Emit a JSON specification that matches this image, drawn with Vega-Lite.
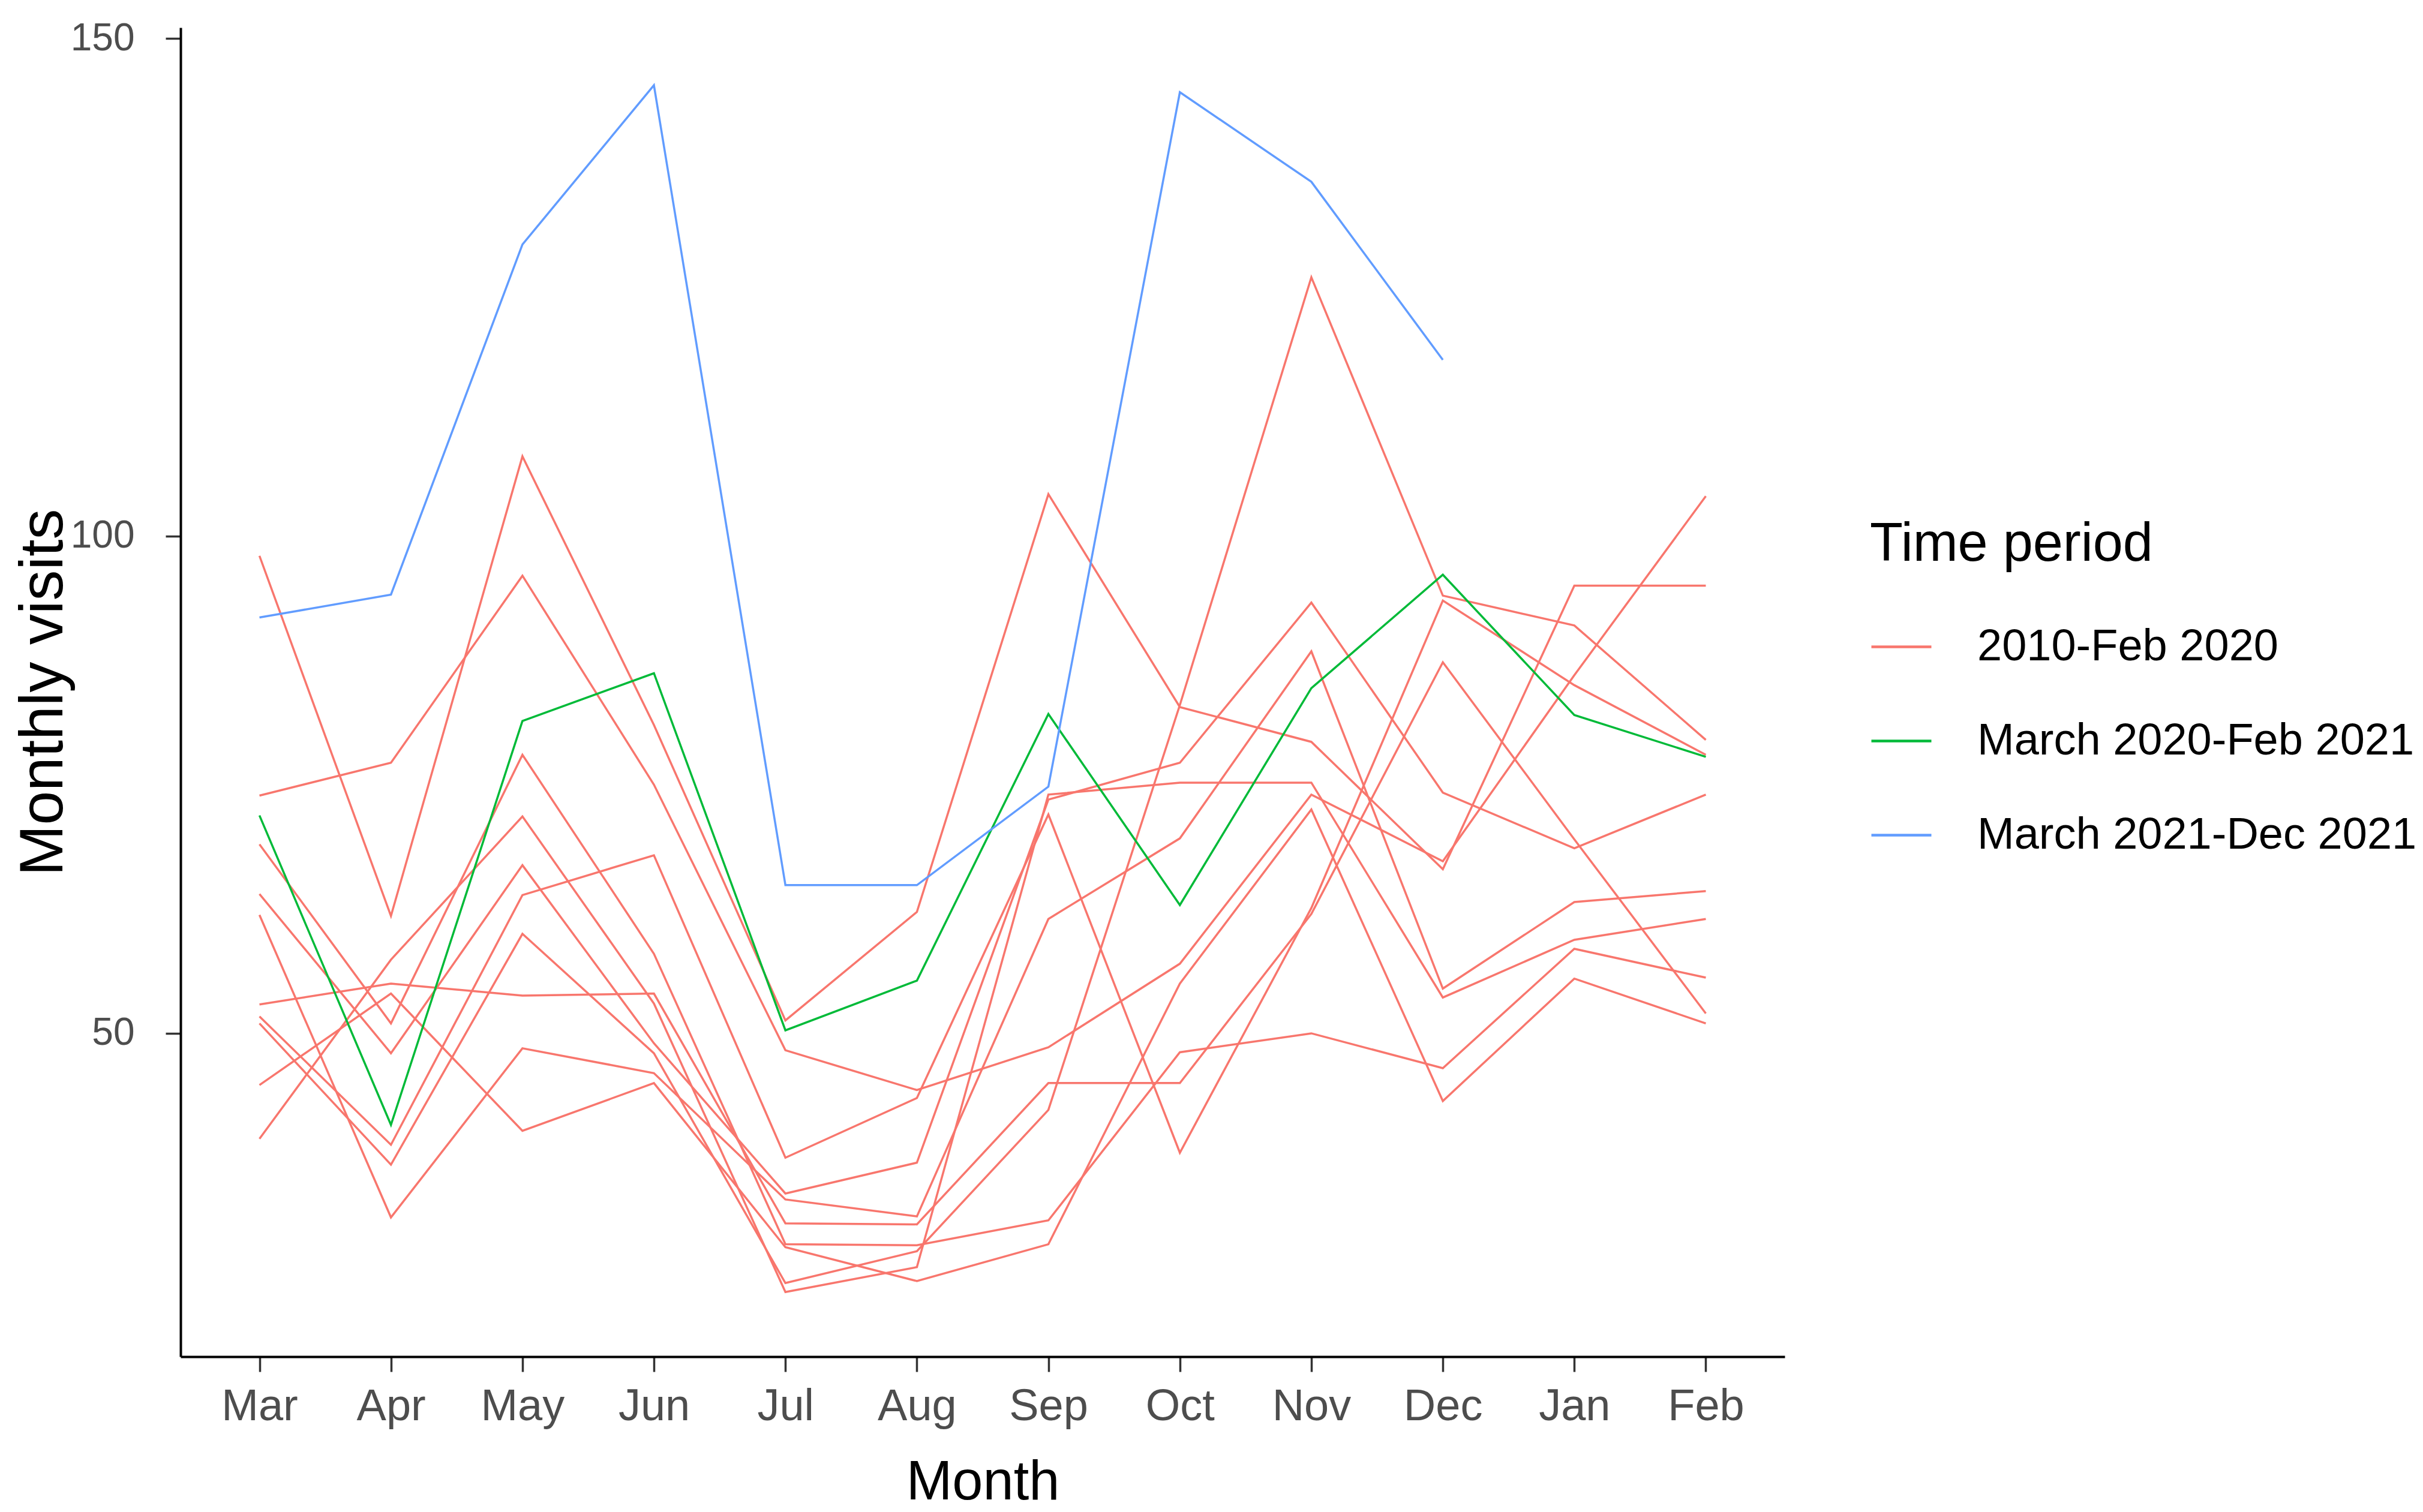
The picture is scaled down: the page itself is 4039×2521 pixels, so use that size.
{
  "$schema": "https://vega.github.io/schema/vega-lite/v6.json",
  "width": 2674,
  "height": 2216,
  "autosize": {"type": "none"},
  "padding": {"left": 301, "top": 46, "right": 1064, "bottom": 259},
  "background": "white",
  "data": {"values": [
    {"m":"Mar","s":"A","p":"2010-Feb 2020","v":98},{"m":"Apr","s":"A","p":"2010-Feb 2020","v":61.8},{"m":"May","s":"A","p":"2010-Feb 2020","v":108},{"m":"Jun","s":"A","p":"2010-Feb 2020","v":81},{"m":"Jul","s":"A","p":"2010-Feb 2020","v":51.3},{"m":"Aug","s":"A","p":"2010-Feb 2020","v":62.2},{"m":"Sep","s":"A","p":"2010-Feb 2020","v":104.2},{"m":"Oct","s":"A","p":"2010-Feb 2020","v":82.8},{"m":"Nov","s":"A","p":"2010-Feb 2020","v":79.3},{"m":"Dec","s":"A","p":"2010-Feb 2020","v":66.5},{"m":"Jan","s":"A","p":"2010-Feb 2020","v":95},{"m":"Feb","s":"A","p":"2010-Feb 2020","v":95},
    {"m":"Mar","s":"B","p":"2010-Feb 2020","v":73.9},{"m":"Apr","s":"B","p":"2010-Feb 2020","v":77.2},{"m":"May","s":"B","p":"2010-Feb 2020","v":96},{"m":"Jun","s":"B","p":"2010-Feb 2020","v":75},{"m":"Jul","s":"B","p":"2010-Feb 2020","v":48.3},{"m":"Aug","s":"B","p":"2010-Feb 2020","v":44.3},{"m":"Sep","s":"B","p":"2010-Feb 2020","v":48.6},{"m":"Oct","s":"B","p":"2010-Feb 2020","v":57},{"m":"Nov","s":"B","p":"2010-Feb 2020","v":74},{"m":"Dec","s":"B","p":"2010-Feb 2020","v":67.3},{"m":"Jan","s":"B","p":"2010-Feb 2020","v":86},{"m":"Feb","s":"B","p":"2010-Feb 2020","v":104},
    {"m":"Mar","s":"C","p":"2010-Feb 2020","v":69},{"m":"Apr","s":"C","p":"2010-Feb 2020","v":51},{"m":"May","s":"C","p":"2010-Feb 2020","v":78},{"m":"Jun","s":"C","p":"2010-Feb 2020","v":58},{"m":"Jul","s":"C","p":"2010-Feb 2020","v":28.8},{"m":"Aug","s":"C","p":"2010-Feb 2020","v":28.7},{"m":"Sep","s":"C","p":"2010-Feb 2020","v":31.2},{"m":"Oct","s":"C","p":"2010-Feb 2020","v":48.1},{"m":"Nov","s":"C","p":"2010-Feb 2020","v":50},{"m":"Dec","s":"C","p":"2010-Feb 2020","v":46.5},{"m":"Jan","s":"C","p":"2010-Feb 2020","v":58.5},{"m":"Feb","s":"C","p":"2010-Feb 2020","v":55.6},
    {"m":"Mar","s":"D","p":"2010-Feb 2020","v":64},{"m":"Apr","s":"D","p":"2010-Feb 2020","v":48},{"m":"May","s":"D","p":"2010-Feb 2020","v":66.9},{"m":"Jun","s":"D","p":"2010-Feb 2020","v":49},{"m":"Jul","s":"D","p":"2010-Feb 2020","v":33.9},{"m":"Aug","s":"D","p":"2010-Feb 2020","v":37},{"m":"Sep","s":"D","p":"2010-Feb 2020","v":73.5},{"m":"Oct","s":"D","p":"2010-Feb 2020","v":77.2},{"m":"Nov","s":"D","p":"2010-Feb 2020","v":93.3},{"m":"Dec","s":"D","p":"2010-Feb 2020","v":74.2},{"m":"Jan","s":"D","p":"2010-Feb 2020","v":68.6},{"m":"Feb","s":"D","p":"2010-Feb 2020","v":74},
    {"m":"Mar","s":"E","p":"2010-Feb 2020","v":61.9},{"m":"Apr","s":"E","p":"2010-Feb 2020","v":31.5},{"m":"May","s":"E","p":"2010-Feb 2020","v":48.5},{"m":"Jun","s":"E","p":"2010-Feb 2020","v":46},{"m":"Jul","s":"E","p":"2010-Feb 2020","v":33.3},{"m":"Aug","s":"E","p":"2010-Feb 2020","v":31.6},{"m":"Sep","s":"E","p":"2010-Feb 2020","v":61.5},{"m":"Oct","s":"E","p":"2010-Feb 2020","v":69.6},{"m":"Nov","s":"E","p":"2010-Feb 2020","v":88.4},{"m":"Dec","s":"E","p":"2010-Feb 2020","v":54.5},{"m":"Jan","s":"E","p":"2010-Feb 2020","v":63.2},{"m":"Feb","s":"E","p":"2010-Feb 2020","v":64.3},
    {"m":"Mar","s":"F","p":"2010-Feb 2020","v":52.9},{"m":"Apr","s":"F","p":"2010-Feb 2020","v":55},{"m":"May","s":"F","p":"2010-Feb 2020","v":53.8},{"m":"Jun","s":"F","p":"2010-Feb 2020","v":54},{"m":"Jul","s":"F","p":"2010-Feb 2020","v":30.9},{"m":"Aug","s":"F","p":"2010-Feb 2020","v":30.8},{"m":"Sep","s":"F","p":"2010-Feb 2020","v":45},{"m":"Oct","s":"F","p":"2010-Feb 2020","v":45},{"m":"Nov","s":"F","p":"2010-Feb 2020","v":62},{"m":"Dec","s":"F","p":"2010-Feb 2020","v":87.3},{"m":"Jan","s":"F","p":"2010-Feb 2020","v":69.5},{"m":"Feb","s":"F","p":"2010-Feb 2020","v":52},
    {"m":"Mar","s":"G","p":"2010-Feb 2020","v":51.7},{"m":"Apr","s":"G","p":"2010-Feb 2020","v":38.8},{"m":"May","s":"G","p":"2010-Feb 2020","v":63.9},{"m":"Jun","s":"G","p":"2010-Feb 2020","v":67.9},{"m":"Jul","s":"G","p":"2010-Feb 2020","v":37.5},{"m":"Aug","s":"G","p":"2010-Feb 2020","v":43.5},{"m":"Sep","s":"G","p":"2010-Feb 2020","v":72},{"m":"Oct","s":"G","p":"2010-Feb 2020","v":38},{"m":"Nov","s":"G","p":"2010-Feb 2020","v":62.6},{"m":"Dec","s":"G","p":"2010-Feb 2020","v":93.5},{"m":"Jan","s":"G","p":"2010-Feb 2020","v":85},{"m":"Feb","s":"G","p":"2010-Feb 2020","v":78},
    {"m":"Mar","s":"H","p":"2010-Feb 2020","v":51},{"m":"Apr","s":"H","p":"2010-Feb 2020","v":36.8},{"m":"May","s":"H","p":"2010-Feb 2020","v":60},{"m":"Jun","s":"H","p":"2010-Feb 2020","v":48},{"m":"Jul","s":"H","p":"2010-Feb 2020","v":24.9},{"m":"Aug","s":"H","p":"2010-Feb 2020","v":28.1},{"m":"Sep","s":"H","p":"2010-Feb 2020","v":42.3},{"m":"Oct","s":"H","p":"2010-Feb 2020","v":83},{"m":"Nov","s":"H","p":"2010-Feb 2020","v":126},{"m":"Dec","s":"H","p":"2010-Feb 2020","v":94},{"m":"Jan","s":"H","p":"2010-Feb 2020","v":91},{"m":"Feb","s":"H","p":"2010-Feb 2020","v":79.5},
    {"m":"Mar","s":"I","p":"2010-Feb 2020","v":44.8},{"m":"Apr","s":"I","p":"2010-Feb 2020","v":54},{"m":"May","s":"I","p":"2010-Feb 2020","v":40.2},{"m":"Jun","s":"I","p":"2010-Feb 2020","v":45},{"m":"Jul","s":"I","p":"2010-Feb 2020","v":28.5},{"m":"Aug","s":"I","p":"2010-Feb 2020","v":25.1},{"m":"Sep","s":"I","p":"2010-Feb 2020","v":28.8},{"m":"Oct","s":"I","p":"2010-Feb 2020","v":55},{"m":"Nov","s":"I","p":"2010-Feb 2020","v":72.5},{"m":"Dec","s":"I","p":"2010-Feb 2020","v":43.2},{"m":"Jan","s":"I","p":"2010-Feb 2020","v":55.5},{"m":"Feb","s":"I","p":"2010-Feb 2020","v":51},
    {"m":"Mar","s":"J","p":"2010-Feb 2020","v":39.4},{"m":"Apr","s":"J","p":"2010-Feb 2020","v":57.4},{"m":"May","s":"J","p":"2010-Feb 2020","v":71.8},{"m":"Jun","s":"J","p":"2010-Feb 2020","v":53},{"m":"Jul","s":"J","p":"2010-Feb 2020","v":24},{"m":"Aug","s":"J","p":"2010-Feb 2020","v":26.5},{"m":"Sep","s":"J","p":"2010-Feb 2020","v":74},{"m":"Oct","s":"J","p":"2010-Feb 2020","v":75.2},{"m":"Nov","s":"J","p":"2010-Feb 2020","v":75.2},{"m":"Dec","s":"J","p":"2010-Feb 2020","v":53.6},{"m":"Jan","s":"J","p":"2010-Feb 2020","v":59.4},{"m":"Feb","s":"J","p":"2010-Feb 2020","v":61.5},
    {"m":"Mar","s":"K","p":"March 2020-Feb 2021","v":71.9},{"m":"Apr","s":"K","p":"March 2020-Feb 2021","v":40.8},{"m":"May","s":"K","p":"March 2020-Feb 2021","v":81.4},{"m":"Jun","s":"K","p":"March 2020-Feb 2021","v":86.2},{"m":"Jul","s":"K","p":"March 2020-Feb 2021","v":50.3},{"m":"Aug","s":"K","p":"March 2020-Feb 2021","v":55.3},{"m":"Sep","s":"K","p":"March 2020-Feb 2021","v":82.1},{"m":"Oct","s":"K","p":"March 2020-Feb 2021","v":62.9},{"m":"Nov","s":"K","p":"March 2020-Feb 2021","v":84.7},{"m":"Dec","s":"K","p":"March 2020-Feb 2021","v":96.1},{"m":"Jan","s":"K","p":"March 2020-Feb 2021","v":82},{"m":"Feb","s":"K","p":"March 2020-Feb 2021","v":77.8},
    {"m":"Mar","s":"L","p":"March 2021-Dec 2021","v":91.8},{"m":"Apr","s":"L","p":"March 2021-Dec 2021","v":94.1},{"m":"May","s":"L","p":"March 2021-Dec 2021","v":129.3},{"m":"Jun","s":"L","p":"March 2021-Dec 2021","v":145.3},{"m":"Jul","s":"L","p":"March 2021-Dec 2021","v":64.9},{"m":"Aug","s":"L","p":"March 2021-Dec 2021","v":64.9},{"m":"Sep","s":"L","p":"March 2021-Dec 2021","v":74.8},{"m":"Oct","s":"L","p":"March 2021-Dec 2021","v":144.6},{"m":"Nov","s":"L","p":"March 2021-Dec 2021","v":135.6},{"m":"Dec","s":"L","p":"March 2021-Dec 2021","v":117.7}
  ]},
  "mark": {"type": "line", "strokeWidth": 3.5, "interpolate": "linear"},
  "encoding": {
    "x": {
      "field": "m", "type": "ordinal",
      "sort": ["Mar","Apr","May","Jun","Jul","Aug","Sep","Oct","Nov","Dec","Jan","Feb"],
      "scale": {"type": "point", "padding": 0.6},
      "axis": {"title": "Month", "labelAngle": 0, "labelPadding": 22, "titleX": 1337, "titleY": 237, "titleBaseline": "alphabetic", "titleFontSize": 92}
    },
    "y": {
      "field": "v", "type": "quantitative",
      "scale": {"domain": [17.5, 151.1], "nice": false, "zero": false},
      "axis": {"title": "Monthly visits", "values": [50, 100, 150], "labelFontSize": 64, "labelPadding": 52, "titleX": -198, "titleY": 1108, "titleAngle": 270, "titleAlign": "center", "titleBaseline": "alphabetic", "titleFontSize": 102}
    },
    "color": {
      "field": "p", "type": "nominal",
      "scale": {"domain": ["2010-Feb 2020","March 2020-Feb 2021","March 2021-Dec 2021"], "range": ["#F8766D","#00BA38","#619CFF"]},
      "legend": {"title": "Time period"}
    },
    "detail": {"field": "s"}
  },
  "config": {
    "view": {"stroke": null},
    "font": "Liberation Sans",
    "axis": {
      "grid": false,
      "domainColor": "black", "domainWidth": 4,
      "tickColor": "#333333", "tickWidth": 3.5, "tickSize": 25,
      "labelColor": "#4D4D4D", "labelFont": "Liberation Sans", "labelFontSize": 74,
      "titleColor": "black", "titleFont": "Liberation Sans", "titleFontWeight": "normal"
    },
    "legend": {
      "orient": "none", "legendX": 2816, "legendY": 818, "padding": 0,
      "titleFont": "Liberation Sans", "titleFontSize": 90, "titleFontWeight": "normal", "titleColor": "black", "titlePadding": 72, "titleLimit": 2000,
      "labelFont": "Liberation Sans", "labelFontSize": 74, "labelColor": "black", "labelOffset": 74, "labelLimit": 2000,
      "symbolType": "stroke", "symbolSize": 10000, "symbolStrokeWidth": 4.5, "rowPadding": 67
    }
  }
}
